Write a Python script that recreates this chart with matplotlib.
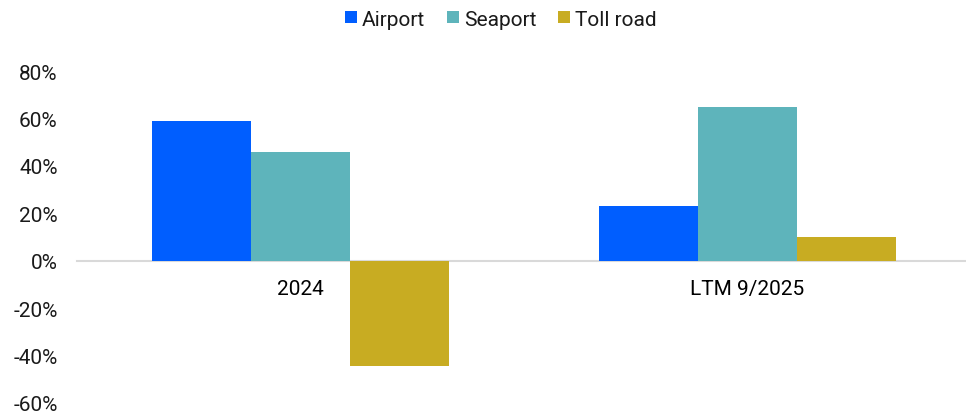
import numpy as np
import matplotlib.pyplot as plt
from matplotlib.patches import Patch

plt.rcParams['font.family'] = ['Roboto', 'DejaVu Sans']
plt.rcParams['font.size'] = 15

# Данные
periods = ["2024", "LTM 9/2025"]
segments = ["Airport", "Seaport", "Toll road"]
airport = [58.8, 22.9]
seaport = [45.7, 64.7]
toll_road = [-44.3, 10.0]
yticks = [-60, -40, -20, 0, 20, 40, 60, 80]

colors = ["#005EFF", "#5EB4BB", "#C8AC22"]
text_color = "#1a1a1a"

fig = plt.figure(figsize=(9.66, 4.14), dpi=100)
ax = fig.add_axes([77 / 966, 10 / 414, 894 / 966, 332 / 414])

x = np.arange(len(periods))
w = 0.2215
for k, (vals, col) in enumerate(zip([airport, seaport, toll_road], colors)):
    ax.bar(x + (k - 1) * w, vals, width=w, color=col, edgecolor="none", zorder=2)

ax.set_xlim(-0.5, 1.5)
ax.set_ylim(-60, 80)
ax.set_yticks(yticks)
ax.set_yticklabels([f"{v}%" for v in yticks], color=text_color)
ax.set_xticks(x)
ax.set_xticklabels(periods, color=text_color)

# Ось X проходит через ноль
for s in ["top", "right", "left"]:
    ax.spines[s].set_visible(False)
ax.spines["bottom"].set_position(("data", 0))
ax.spines["bottom"].set_color("#D9D9D9")
ax.spines["bottom"].set_linewidth(1.5)
ax.spines["bottom"].set_zorder(1)
ax.tick_params(axis="both", length=0)
ax.tick_params(axis="y", pad=14)
ax.tick_params(axis="x", pad=13)

handles = [Patch(facecolor=c, edgecolor="none") for c in colors]
fig.legend(handles, segments, loc="center", bbox_to_anchor=(501 / 966, 1 - 20 / 414),
           ncol=3, frameon=False, handlelength=0.55, handleheight=0.55,
           handletextpad=0.25, columnspacing=1.05, labelcolor=text_color,
           borderaxespad=0, borderpad=0)

fig.savefig("out.png", dpi=100)
